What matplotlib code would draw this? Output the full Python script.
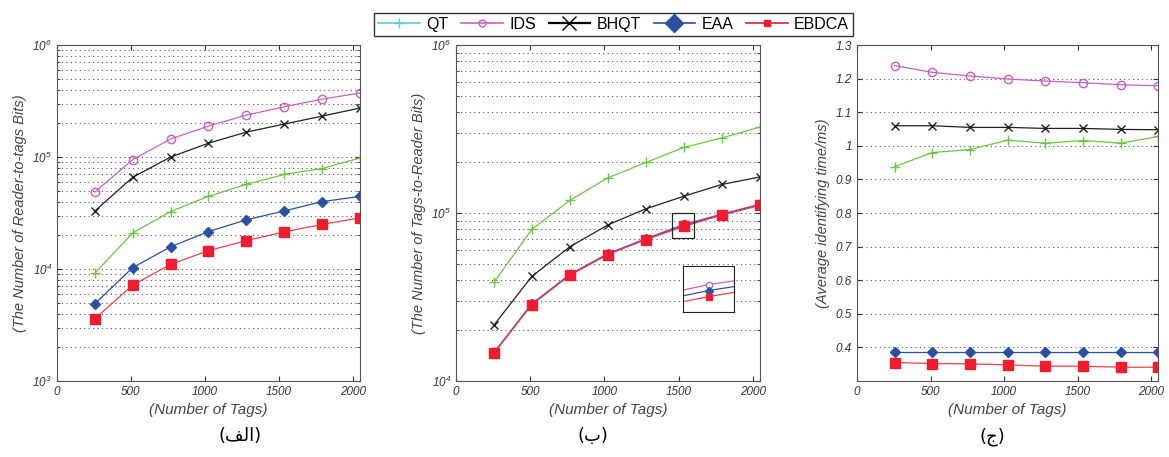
import numpy as np
import matplotlib
matplotlib.use("Agg")
from matplotlib import pyplot as plt
from matplotlib.lines import Line2D
from matplotlib.patches import Rectangle

plt.rcParams['font.family'] = ['Liberation Sans', 'DejaVu Sans']

tags = [256, 512, 768, 1024, 1280, 1536, 1792, 2048]

# (a) reader-to-tags bits
r2t_qt = [9200, 21000, 32600, 44600, 57000, 70000, 79000, 98000]
r2t_ids = [48700, 95000, 145000, 189000, 237000, 281000, 329000, 373000]
r2t_bhqt = [33000, 66000, 100000, 133000, 167000, 197000, 232000, 274000]
r2t_eaa = [4900, 10300, 15800, 21600, 27500, 33000, 40000, 44500]
r2t_ebdca = [3600, 7200, 11000, 14600, 17900, 21500, 25000, 28700]

# (b) tags-to-reader bits
t2r_qt = [38600, 80000, 119000, 162000, 200000, 246000, 280000, 325000]
t2r_bhqt = [21500, 42000, 63000, 85000, 106000, 126000, 148000, 164000]
t2r_ids = [14800, 28900, 43200, 57400, 70500, 85800, 98800, 113000]
t2r_eaa = [14700, 28700, 42900, 57000, 70000, 84500, 98000, 112000]
t2r_ebdca = [14600, 28500, 42600, 56600, 69500, 83200, 97200, 111000]

# (c) average identifying time (ms)
time_qt = [0.938, 0.980, 0.989, 1.017, 1.008, 1.016, 1.008, 1.028]
time_ids = [1.239, 1.219, 1.208, 1.199, 1.193, 1.188, 1.182, 1.179]
time_bhqt = [1.060, 1.060, 1.055, 1.055, 1.052, 1.052, 1.049, 1.048]
time_eaa = [0.385, 0.385, 0.385, 0.385, 0.385, 0.385, 0.385, 0.385]
time_ebdca = [0.355, 0.352, 0.351, 0.348, 0.344, 0.344, 0.341, 0.341]

names = ['QT', 'IDS', 'BHQT', 'EAA', 'EBDCA']
colors = {'QT': '#6cc644', 'IDS': '#c860c0', 'BHQT': '#202020',
          'EAA': '#2b4fa3', 'EBDCA': '#f04050'}
styles = {'QT': dict(marker='+', ms=7, mfc='none'),
          'IDS': dict(marker='o', ms=6, mfc='none'),
          'BHQT': dict(marker='x', ms=6, mfc='none'),
          'EAA': dict(marker='D', ms=5, mfc='#2b4fa3', mec='#2b4fa3'),
          'EBDCA': dict(marker='s', ms=6.5, mfc='#ee1c2e', mec='#ee1c2e')}

tick_color = '#333333'


def plot_series(ax, series):
    for n, y in zip(names, series):
        ax.plot(tags, y, color=colors[n], lw=0.9, **styles[n])


def style_axes(ax, ylabel):
    ax.set_xlim(0, 2048)
    ax.set_xticks([0, 500, 1000, 1500, 2000])
    ax.tick_params(which='both', direction='in', top=True, right=True,
                   labelsize=8.5, colors=tick_color)
    for lab in ax.get_xticklabels() + ax.get_yticklabels():
        lab.set_fontstyle('italic')
    ax.grid(True, axis='y', which='both', ls=(0, (1, 3)), color='#555555', lw=0.8)
    ax.set_xlabel('(Number of Tags)', fontstyle='italic', fontsize=11, color='#444444')
    ax.set_ylabel(ylabel, fontstyle='italic', fontsize=10.5, color='#444444')
    for s in ax.spines.values():
        s.set_color('#555555')


fig = plt.figure(figsize=(11.69, 4.57), dpi=100)

ax1 = fig.add_axes([0.0488, 0.1663, 0.259, 0.735])
plot_series(ax1, [r2t_qt, r2t_ids, r2t_bhqt, r2t_eaa, r2t_ebdca])
ax1.set_yscale('log')
ax1.set_ylim(1e3, 1e6)
style_axes(ax1, '(The Number of Reader-to-tags Bits)')

ax2 = fig.add_axes([0.390, 0.1663, 0.260, 0.735])
plot_series(ax2, [t2r_qt, t2r_ids, t2r_bhqt, t2r_eaa, t2r_ebdca])
ax2.set_yscale('log')
ax2.set_ylim(1e4, 1e6)
style_axes(ax2, '(The Number of Tags-to-Reader Bits)')
# box marking the zoomed region around the 1536-tag point
ax2.add_patch(Rectangle((1455, 71000), 148, 29000, fill=False, ec='#222222', lw=0.9, zorder=5))

# zoomed inset of the overlapping curves
axin = fig.add_axes([683 / 1169, (457 - 312) / 457, 51 / 1169, 46 / 457])
axin.plot(tags, t2r_ids, color=colors['IDS'], lw=0.9, marker='o', ms=4.5, mfc='white')
axin.plot(tags, t2r_eaa, color=colors['EAA'], lw=0.9, marker='D', ms=4, mfc=colors['EAA'])
axin.plot(tags, t2r_ebdca, color=colors['EBDCA'], lw=0.9, marker='s', ms=5, mfc='#ee1c2e', mec='#ee1c2e')
axin.set_yscale('log')
axin.set_xlim(1518, 1554)
axin.set_ylim(80000, 90000)
axin.set_xticks([])
axin.yaxis.set_major_locator(matplotlib.ticker.NullLocator())
axin.yaxis.set_minor_locator(matplotlib.ticker.NullLocator())
for s in axin.spines.values():
    s.set_color('#222222')

ax3 = fig.add_axes([0.733, 0.1663, 0.258, 0.735])
plot_series(ax3, [time_qt, time_ids, time_bhqt, time_eaa, time_ebdca])
ax3.set_ylim(0.3, 1.3)
ax3.set_yticks([0.4, 0.5, 0.6, 0.7, 0.8, 0.9, 1.0, 1.1, 1.2, 1.3])
ax3.set_yticklabels(['0.4', '0.5', '0.6', '0.7', '0.8', '0.9', '1', '1.1', '1.2', '1.3'])
style_axes(ax3, '(Average identifying time/ms)')

# legend (QT is drawn cyan in the legend, as in the original)
handles = [Line2D([], [], color='#5ccbe0', marker='+', ms=7, lw=1.2),
           Line2D([], [], color=colors['IDS'], marker='o', ms=5, mfc='none', lw=1.2),
           Line2D([], [], color='black', marker='x', ms=10, lw=1.6),
           Line2D([], [], color=colors['EAA'], marker='D', ms=9, lw=1.2),
           Line2D([], [], color='#ee1c2e', marker='s', ms=5, lw=1.2)]
leg = fig.legend(handles, names, loc='upper center', bbox_to_anchor=(0.525, 0.99),
                 ncol=5, fontsize=11.5, frameon=True, fancybox=False,
                 handlelength=2.6, columnspacing=0.8, handletextpad=0.4,
                 borderpad=0.25)
leg.get_frame().set_edgecolor('black')
leg.get_frame().set_linewidth(1.0)

# panel captions, pre-shaped Arabic letters in visual order
fig.text(0.205, 0.035, '(\uFED2\uFEDF\uFE8D)', ha='center', fontsize=13, family=['DejaVu Sans'])
fig.text(0.507, 0.035, '(\u0628)', ha='center', fontsize=13, family=['DejaVu Sans'])
fig.text(0.849, 0.035, '(\u062C)', ha='center', fontsize=13, family=['DejaVu Sans'])

fig.savefig('out.png', dpi=100)
